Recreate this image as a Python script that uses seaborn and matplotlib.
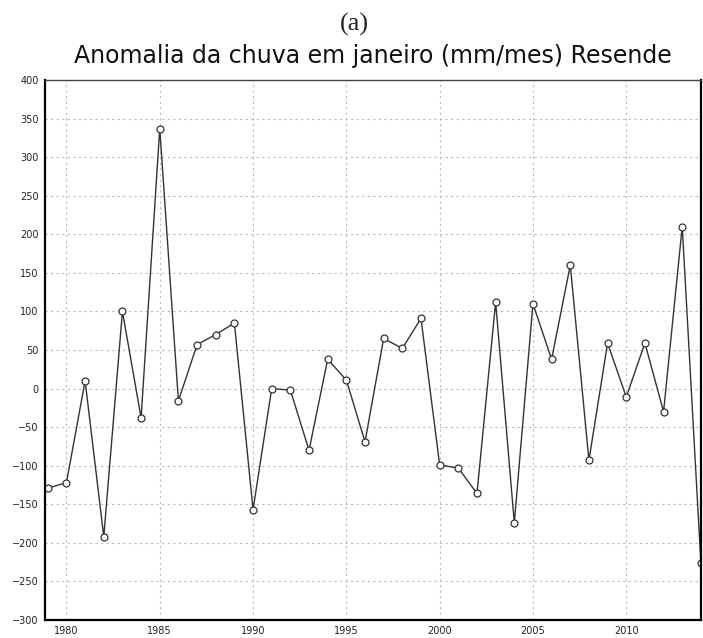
import matplotlib
matplotlib.use("Agg")
import matplotlib.pyplot as plt
import seaborn as sns
import pandas as pd

years = list(range(1979, 2015))
anomaly = [-129, -122, 10, -192, 100, -38, 337, -16, 57, 70, 85, -157, 0, -2, -80, 38, 11, -69,
           65, 52, 91, -99, -103, -136, 112, -174, 110, 38, 160, -93, 59, -11, 59, -30, 210, -226]
xticks = [1980, 1985, 1990, 1995, 2000, 2005, 2010]
yticks = list(range(-300, 401, 50))

df = pd.DataFrame({"ano": years, "anomalia": anomaly})

sns.set_theme(style="white")
plt.rcParams['font.family'] = ['DejaVu Sans']

fig = plt.figure(figsize=(7.03, 6.38), dpi=100)
ax = fig.add_axes([0.064, 0.0282, 0.933, 0.8464])

sns.lineplot(data=df, x="ano", y="anomalia", ax=ax, color="#333333", linewidth=1.0,
             marker="o", markersize=5, markerfacecolor="white", markeredgecolor="#333333",
             markeredgewidth=0.9)

ax.set_xlim(1978.85, 2014.0)
ax.set_ylim(-300, 400)
ax.set_xticks(xticks)
ax.set_yticks(yticks)
ax.set_yticklabels([str(v).replace("-", "\u2212") for v in yticks])
ax.set_xlabel("")
ax.set_ylabel("")
ax.grid(True, color="#bbbbbb", linestyle=(0, (2, 3)), linewidth=0.8)
ax.tick_params(axis="both", labelsize=7, colors="#222222", length=3, width=0.8,
               direction="out", pad=1.5)

for side in ["left", "bottom", "right"]:
    ax.spines[side].set_color("black")
    ax.spines[side].set_linewidth(1.6)
ax.spines["top"].set_linestyle((0, (3, 1)))
ax.spines["top"].set_color("#444444")
ax.spines["top"].set_linewidth(1.0)
ax.spines["bottom"].set_linestyle((0, (4, 1)))

fig.text(0.504, 0.962, "(a)", ha="center", va="center", fontsize=19, family="Liberation Serif")
fig.text(0.531, 0.912, "Anomalia da chuva em janeiro (mm/mes) Resende", ha="center", va="center",
         fontsize=17, color="#111111")

fig.savefig("out.png", dpi=100)
